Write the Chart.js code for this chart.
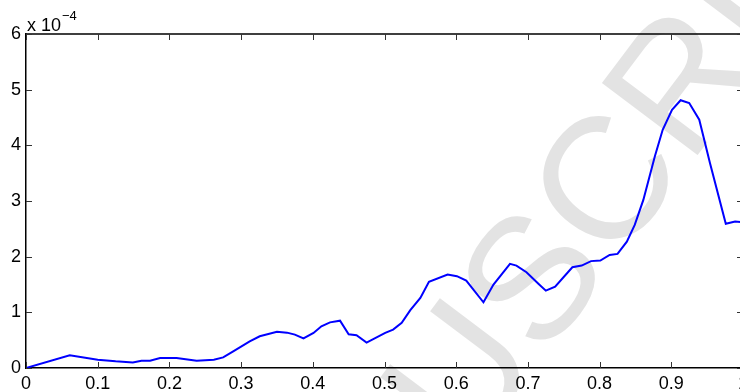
<!DOCTYPE html>
<html>
<head>
<meta charset="utf-8">
<script src="https://cdn.jsdelivr.net/npm/chart.js@4"></script>
<style>
  html, body { margin: 0; padding: 0; overflow: hidden; background: #fff; }
  #wrap { position: relative; width: 760px; height: 392px; }
</style>
</head>
<body>
<div id="wrap"><canvas id="chart" width="760" height="392"></canvas></div>
<script>
// values; y in units of 1e-4
const xValues = [
  0, 0.061, 0.1, 0.125, 0.149, 0.161, 0.173, 0.187, 0.21, 0.238,
  0.262, 0.275, 0.289, 0.312, 0.326, 0.35, 0.364, 0.375, 0.387, 0.401,
  0.412, 0.424, 0.438, 0.45, 0.461, 0.475, 0.501, 0.512, 0.524, 0.536,
  0.55, 0.562, 0.588, 0.601, 0.614, 0.638, 0.652, 0.675, 0.684, 0.698,
  0.715, 0.725, 0.738, 0.762, 0.775, 0.788, 0.801, 0.814, 0.825, 0.838,
  0.849, 0.861, 0.877, 0.888, 0.901, 0.913, 0.925, 0.939, 0.954, 0.976,
  0.989, 1.0,
];
const yValues = [
  0, 0.23, 0.15, 0.12, 0.1, 0.13, 0.13, 0.18, 0.18, 0.13,
  0.15, 0.19, 0.3, 0.48, 0.57, 0.65, 0.635, 0.6, 0.53, 0.63,
  0.75, 0.82, 0.85, 0.605, 0.59, 0.455, 0.63, 0.69, 0.81, 1.04,
  1.26, 1.55, 1.68, 1.65, 1.57, 1.18, 1.5, 1.87, 1.84, 1.72,
  1.51, 1.39, 1.46, 1.81, 1.84, 1.92, 1.93, 2.03, 2.05, 2.27,
  2.57, 3.02, 3.8, 4.28, 4.64, 4.81, 4.76, 4.46, 3.68, 2.59,
  2.63, 2.62,
];
const xTicks = [0, 0.1, 0.2, 0.3, 0.4, 0.5, 0.6, 0.7, 0.8, 0.9, 1];
const xTickLabels = ["0", "0.1", "0.2", "0.3", "0.4", "0.5", "0.6", "0.7", "0.8", "0.9", "1"];
const yTicks = [0, 1, 2, 3, 4, 5, 6];
const exponentBase = "x 10";
const exponentPower = "\u22124";
const watermarkHead = "ACCEPTED MAN";
const watermarkTail = "USCRIPT";

const FONT = "Liberation Sans, Arial, Helvetica, sans-serif";

const points = xValues.map((x, i) => ({ x, y: yValues[i] }));

const matlabAxes = {
  id: "matlabAxes",
  beforeDraw(chart) {
    const ctx = chart.ctx;
    ctx.save();
    ctx.fillStyle = "#e3e3e3";
    ctx.font = `174px ${FONT}`;
    ctx.translate(468, 460);
    ctx.rotate(-53 * Math.PI / 180);
    ctx.textBaseline = "alphabetic";
    ctx.textAlign = "right";
    ctx.fillText(watermarkHead, 0, 0);
    ctx.textAlign = "left";
    ctx.fillText(watermarkTail, 0, 0);
    ctx.restore();
  },
  afterDraw(chart) {
    const { ctx, chartArea } = chart;
    const xs = chart.scales.x;
    const ys = chart.scales.y;
    const { left, right, top, bottom } = chartArea;
    ctx.save();
    ctx.strokeStyle = "#000";
    ctx.lineWidth = 1.5;
    ctx.beginPath();
    ctx.moveTo(left, top);
    ctx.lineTo(right, top);
    ctx.lineTo(right, bottom);
    ctx.stroke();

    ctx.strokeStyle = "#333";
    ctx.lineWidth = 1;
    ctx.beginPath();
    xTicks.forEach((v) => {
      const px = Math.round(xs.getPixelForValue(v)) + 0.5;
      ctx.moveTo(px, bottom);
      ctx.lineTo(px, bottom - 6);
      ctx.moveTo(px, top);
      ctx.lineTo(px, top + 6);
    });
    yTicks.forEach((v) => {
      const py = Math.round(ys.getPixelForValue(v)) + 0.5;
      ctx.moveTo(left, py);
      ctx.lineTo(left + 6, py);
      ctx.moveTo(right, py);
      ctx.lineTo(right - 6, py);
    });
    ctx.stroke();

    ctx.fillStyle = "#000";
    ctx.textAlign = "left";
    ctx.textBaseline = "alphabetic";
    ctx.font = `18px ${FONT}`;
    ctx.fillText(exponentBase, left + 1, 31);
    const w = ctx.measureText(exponentBase).width;
    ctx.font = `13px ${FONT}`;
    ctx.fillText(exponentPower, left + 2 + w, 20);
    ctx.restore();
  },
};

new Chart(document.getElementById("chart"), {
  type: "line",
  data: {
    datasets: [
      {
        data: points,
        borderColor: "#0000ff",
        borderWidth: 2,
        pointRadius: 0,
        tension: 0,
        fill: false,
      },
    ],
  },
  options: {
    responsive: false,
    animation: false,
    devicePixelRatio: 1,
    layout: { padding: { top: 34, right: 17, left: 0, bottom: 0 } },
    plugins: {
      legend: { display: false },
      tooltip: { enabled: false },
    },
    scales: {
      x: {
        type: "linear",
        min: 0,
        max: 1,
        afterBuildTicks: (scale) => {
          scale.ticks = xTicks.map((value) => ({ value }));
        },
        afterFit: (scale) => {
          scale.height = 24;
        },
        ticks: {
          autoSkip: false,
          maxRotation: 0,
          padding: 5,
          color: "#000",
          font: { family: FONT, size: 18 },
          callback: (value) => xTickLabels[xTicks.indexOf(value)] ?? "",
        },
        grid: { drawOnChartArea: false, drawTicks: false },
        border: { display: true, color: "#000", width: 1.5 },
      },
      y: {
        type: "linear",
        min: 0,
        max: 6,
        afterBuildTicks: (scale) => {
          scale.ticks = yTicks.map((value) => ({ value }));
        },
        afterFit: (scale) => {
          scale.width = 26;
        },
        ticks: {
          padding: 5,
          color: "#000",
          font: { family: FONT, size: 18 },
          callback: (value) => String(value),
        },
        grid: { drawOnChartArea: false, drawTicks: false },
        border: { display: true, color: "#000", width: 1.5 },
      },
    },
  },
  plugins: [matlabAxes],
});
</script>
</body>
</html>
